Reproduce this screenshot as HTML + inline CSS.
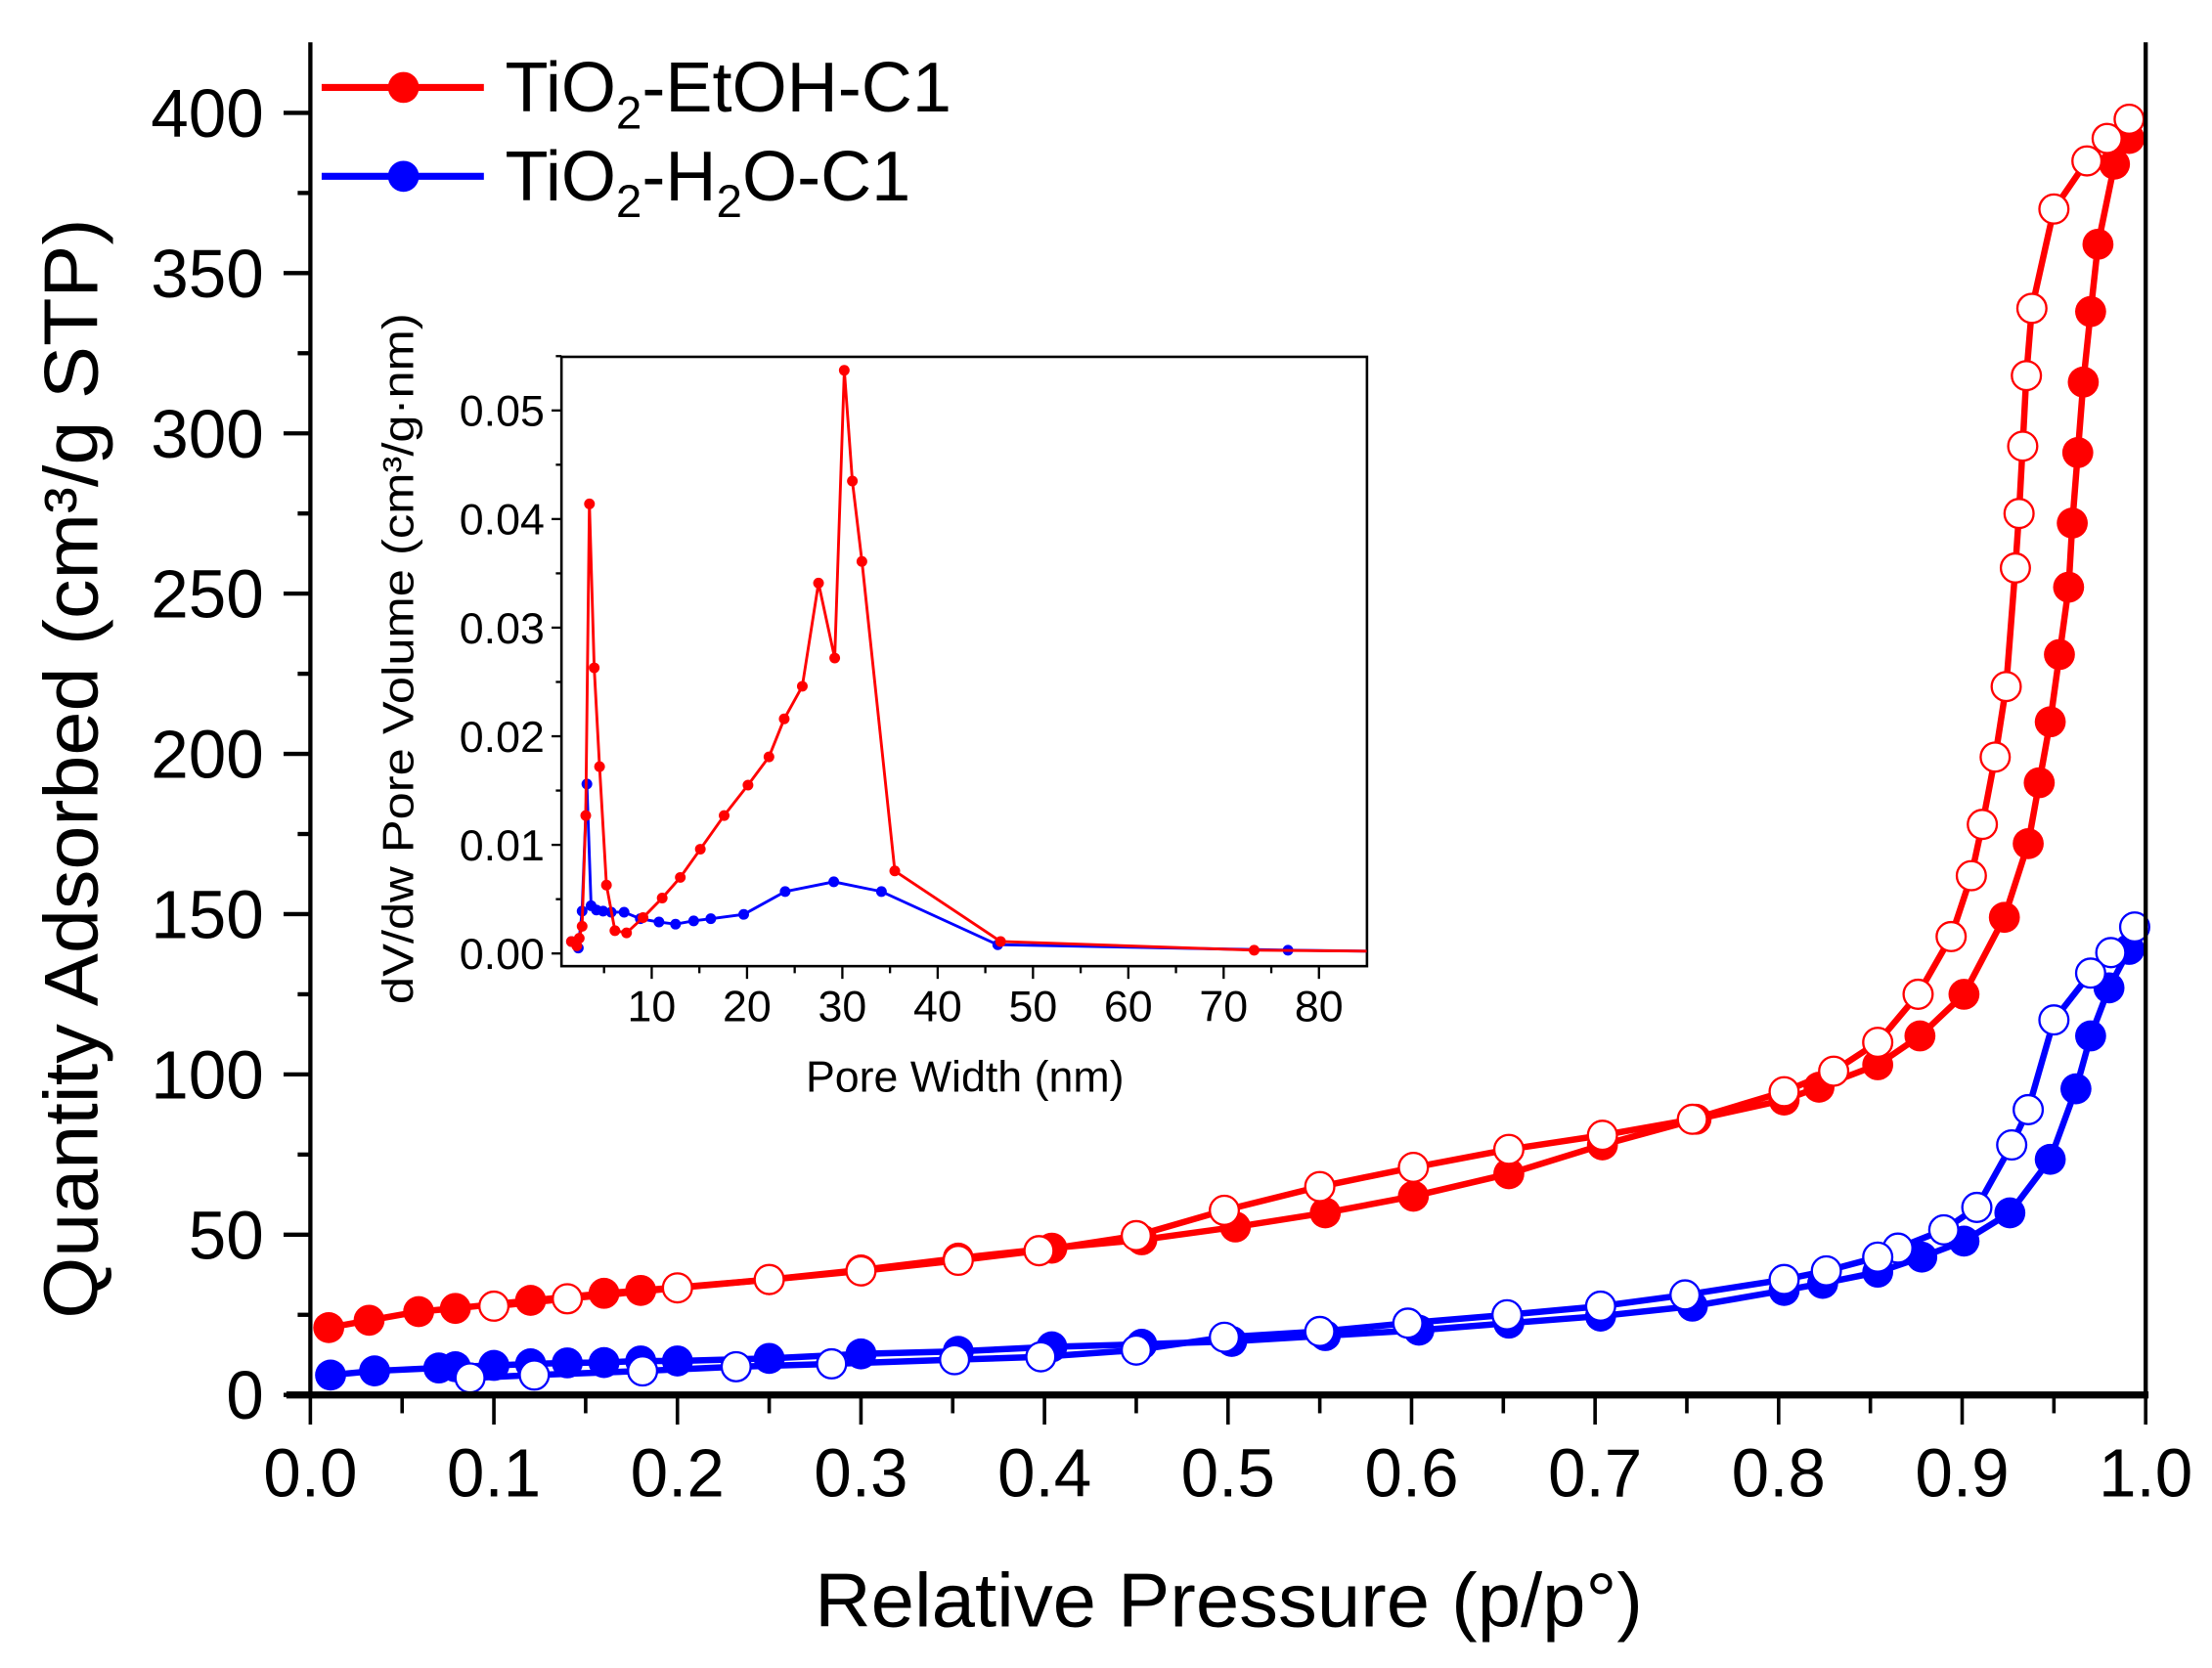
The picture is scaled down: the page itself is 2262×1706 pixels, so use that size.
<!DOCTYPE html>
<html><head><meta charset="utf-8"><style>
html,body{margin:0;padding:0;background:#fff;}
svg{display:block;font-family:"Liberation Sans",Arial,sans-serif;}
</style></head><body>
<svg id="chart" width="2262" height="1706" viewBox="0 0 1568 1182.6" xmlns="http://www.w3.org/2000/svg">
<rect width="1568" height="1182.6" fill="#fff"/>
<g id="main"></g>
<g id="inset"></g>
<g id="legend">
  <g>
    <line x1="228" y1="62" x2="343" y2="62" stroke="#f00" stroke-width="5"/>
    <circle cx="286" cy="62" r="11" fill="#f00"/>
    <text x="358" y="79" font-size="50">TiO<tspan font-size="33" dy="12">2</tspan><tspan dy="-12">-EtOH-C1</tspan></text>
  </g>
  <g>
    <line x1="228" y1="125" x2="343" y2="125" stroke="#00f" stroke-width="5"/>
    <circle cx="286" cy="125" r="11" fill="#00f"/>
    <text x="358" y="142" font-size="50">TiO<tspan font-size="33" dy="12">2</tspan><tspan dy="-12">-H</tspan><tspan font-size="33" dy="12">2</tspan><tspan dy="-12">O-C1</tspan></text>
  </g>
</g>
</svg>
<script>
// ---- main isotherm data ----
const etohAdsP = [0.01,0.032,0.059,0.079,0.12,0.16,0.18,0.25,0.30,0.353,0.404,0.453,0.504,0.553,0.601,0.653,0.704,0.755,0.803,0.822,0.854,0.877,0.901,0.923,0.936,0.942,0.948,0.953,0.958,0.960,0.963,0.966,0.970,0.974,0.983,0.991];
const etohAdsQ = [21,23.3,26,27,29.5,31.7,32.6,36,39,42.7,45.8,48.4,52.4,56.8,62,69,78,86,92,96,103,112,125,149,172,191,210,231,252,272,294,316,338,359,384,392];
const etohDesP = [0.991,0.979,0.968,0.950,0.938,0.935,0.933,0.931,0.929,0.924,0.918,0.911,0.905,0.894,0.876,0.854,0.83,0.803,0.753,0.704,0.653,0.601,0.55,0.498,0.45,0.397,0.353,0.30,0.25,0.20,0.14,0.10];
const etohDesQ = [398,392,385,370,339,318,296,275,258,221,199,178,162,143,125,110,101,94.6,86,81,76.6,71,65,57.6,49.7,45,42,38.7,36,33.4,30,27.7];
const h2oAdsP = [0.011,0.035,0.07,0.079,0.1,0.12,0.14,0.16,0.18,0.2,0.25,0.3,0.353,0.404,0.453,0.502,0.553,0.604,0.653,0.703,0.753,0.803,0.824,0.854,0.878,0.901,0.926,0.948,0.962,0.97,0.98,0.991];
const h2oAdsQ = [6.2,7.5,8.4,8.8,9.2,9.7,10,10.1,10.6,10.6,11.4,12.8,13.6,15,15.8,16.7,18.5,20.2,22.4,24.6,27.7,32.6,34.8,38.3,43,48,56.8,73.5,95.5,112,127,139];
const h2oDesP = [0.994,0.981,0.97,0.95,0.936,0.927,0.908,0.89,0.865,0.854,0.826,0.803,0.749,0.703,0.652,0.598,0.55,0.498,0.45,0.398,0.351,0.284,0.232,0.181,0.122,0.087];
const h2oDesQ = [146,138,131.6,117,89,78,58.5,51.5,45.8,43,38.7,36,31.2,27.7,25,22.4,19.8,18,14,11.9,11,9.7,8.8,7.5,6.2,5.3];
const xTickLabels = ["0.0","0.1","0.2","0.3","0.4","0.5","0.6","0.7","0.8","0.9","1.0"];
const yTickLabels = ["0","50","100","150","200","250","300","350","400"];
// ---- inset PSD data ----
const etohW = [1.58,2.14,2.4,2.7,3.08,3.47,3.97,4.53,5.25,6.14,7.36,9.09,11.1,13.0,15.1,17.6,20.1,22.3,23.9,25.8,27.5,29.2,30.2,31.05,32.05,35.5,46.6,73.2];
const etohV = [0.0011,0.0007,0.0014,0.0025,0.0127,0.0414,0.0263,0.0172,0.0063,0.0021,0.0019,0.0033,0.0051,0.007,0.0096,0.0127,0.0155,0.0181,0.0216,0.0246,0.0341,0.0272,0.0537,0.0435,0.0361,0.0076,0.0011,0.0003];
const h2oW = [1.58,2.3,2.7,3.2,3.64,4.2,4.9,5.75,7.1,8.8,10.76,12.5,14.4,16.2,19.65,24,29.1,34.1,46.3,76.75];
const h2oV = [0.0011,0.0005,0.0039,0.0156,0.0044,0.004,0.0039,0.0038,0.0038,0.0032,0.0029,0.0027,0.003,0.0032,0.0036,0.0057,0.0066,0.0057,0.0008,0.0003];
const insetXTicks = ["10","20","30","40","50","60","70","80"];
const insetYTicks = ["0.00","0.01","0.02","0.03","0.04","0.05"];

const NS="http://www.w3.org/2000/svg";
function mk(tag,attrs,parent){const e=document.createElementNS(NS,tag);for(const k in attrs)e.setAttribute(k,attrs[k]);parent.appendChild(e);return e;}

// main axes
const X=p=>220+1301*p, Y=q=>989-2.2725*q;
const main=document.getElementById('main');
function series(ps,qs,color,filled,name){
  const g=mk('g',{},main);
  
  
  const pts=ps.map((p,i)=>X(p).toFixed(1)+','+Y(qs[i]).toFixed(1)).join(' ');
  mk('polyline',{points:pts,fill:'none',stroke:color,'stroke-width':4.5,'stroke-linejoin':'round'},g);
  ps.forEach((p,i)=>{
    const c=mk('circle',{cx:X(p),cy:Y(qs[i]),r:filled?11:10.3,fill:filled?color:'#fff',stroke:color,'stroke-width':filled?0:1.6},g);
    
    
  });
}
series(etohAdsP,etohAdsQ,'#f00',true,'etoh-adsorption');
series(h2oAdsP,h2oAdsQ,'#00f',true,'h2o-adsorption');
series(etohDesP,etohDesQ,'#f00',false,'etoh-desorption');
series(h2oDesP,h2oDesQ,'#00f',false,'h2o-desorption');

const ax=mk('g',{},main);


mk('line',{x1:220,y1:30,x2:220,y2:991,stroke:'#000','stroke-width':3},ax);
mk('line',{x1:1521,y1:30,x2:1521,y2:991,stroke:'#000','stroke-width':3},ax);
mk('line',{x1:203,y1:989,x2:1523,y2:989,stroke:'#000','stroke-width':5},ax);
xTickLabels.forEach((l,i)=>{
  const p=i/10;
  mk('line',{x1:X(p),y1:989,x2:X(p),y2:1010,stroke:'#000','stroke-width':2.5},ax);
  if(i<10) mk('line',{x1:X(p+0.05),y1:989,x2:X(p+0.05),y2:1002,stroke:'#000','stroke-width':2.5},ax);
  const t=mk('text',{x:X(p),y:1061,'font-size':48,'text-anchor':'middle'},ax);
  t.textContent=l;
  
  
});
yTickLabels.forEach((l,i)=>{
  const q=i*50;
  mk('line',{x1:201,y1:Y(q),x2:220,y2:Y(q),stroke:'#000','stroke-width':3},ax);
  if(i<8) mk('line',{x1:211,y1:Y(q+25),x2:220,y2:Y(q+25),stroke:'#000','stroke-width':3},ax);
  const t=mk('text',{x:187,y:Y(q)+17,'font-size':48,'text-anchor':'end'},ax);
  t.textContent=l;
  
  
});
const xt=mk('text',{x:871,y:1153,'font-size':54,'text-anchor':'middle',textLength:587,lengthAdjust:'spacingAndGlyphs'},ax);
xt.textContent='Relative Pressure (p/p°)';


const yt=mk('text',{x:0,y:0,'font-size':54,'text-anchor':'middle',transform:'translate(69,545) rotate(-90)',textLength:780,lengthAdjust:'spacingAndGlyphs'},ax);
yt.textContent='Quantity Adsorbed (cm³/g STP)';



// inset
const ins=document.getElementById('inset');
const IX=w=>394.4+6.757*w, IY=v=>676-7700*v;
mk('rect',{x:398,y:253,width:571,height:432,fill:'#fff',stroke:'#000','stroke-width':1.8},ins);
function iseries(ws,vs,color,name){
  const g=mk('g',{},ins);
  
  
  let pts=ws.map((w,i)=>IX(w).toFixed(1)+','+IY(vs[i]).toFixed(1));
  pts.push(IX(85)+','+IY(vs[vs.length-1]*0.7));
  mk('polyline',{points:pts.join(' '),fill:'none',stroke:color,'stroke-width':2},g);
  ws.forEach((w,i)=>{
    const c=mk('circle',{cx:IX(w),cy:IY(vs[i]),r:3.8,fill:color},g);
    
    
  });
}
iseries(h2oW,h2oV,'#00f','h2o-psd');
iseries(etohW,etohV,'#f00','etoh-psd');
insetXTicks.forEach((l,i)=>{
  const w=(i+1)*10;
  mk('line',{x1:IX(w),y1:685,x2:IX(w),y2:694,stroke:'#000','stroke-width':1.6},ins);
  mk('line',{x1:IX(w-5),y1:685,x2:IX(w-5),y2:690,stroke:'#000','stroke-width':1.6},ins);
  const t=mk('text',{x:IX(w),y:724,'font-size':31,'text-anchor':'middle'},ins);
  t.textContent=l;
  
  
});
insetYTicks.forEach((l,i)=>{
  const v=i*0.01;
  mk('line',{x1:391,y1:IY(v),x2:398,y2:IY(v),stroke:'#000','stroke-width':1.6},ins);
  mk('line',{x1:394,y1:IY(v+0.005),x2:398,y2:IY(v+0.005),stroke:'#000','stroke-width':1.6},ins);
  const t=mk('text',{x:386,y:IY(v)+11,'font-size':31,'text-anchor':'end'},ins);
  t.textContent=l;
  
  
});
const ixt=mk('text',{x:684,y:774,'font-size':31,'text-anchor':'middle'},ins);
ixt.textContent='Pore Width (nm)';


const iyt=mk('text',{x:0,y:0,'font-size':31,'text-anchor':'middle',transform:'translate(293,467) rotate(-90)',textLength:490,lengthAdjust:'spacingAndGlyphs'},ins);
iyt.textContent='dV/dw Pore Volume (cm³/g·nm)';


</script>
</body></html>
